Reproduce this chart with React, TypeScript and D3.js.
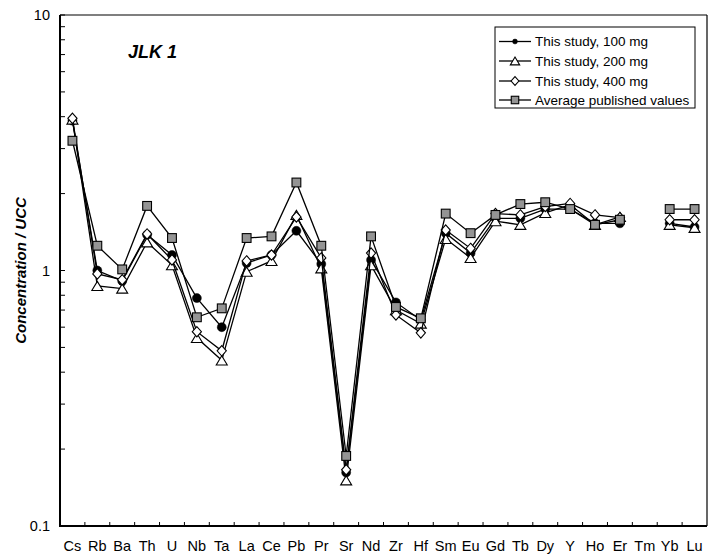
import React from "react";
import * as d3 from "d3";

// Trace-element pattern of JLK 1, normalised to upper continental crust (UCC)
const categories = ["Cs","Rb","Ba","Th","U","Nb","Ta","La","Ce","Pb","Pr","Sr","Nd","Zr","Hf","Sm","Eu","Gd","Tb","Dy","Y","Ho","Er","Tm","Yb","Lu"];

const study100: (number | null)[] = [3.86,1.00,0.91,1.38,1.15,0.78,0.60,1.07,1.15,1.43,1.06,0.162,1.10,0.75,0.64,1.40,1.17,1.60,1.60,1.74,1.74,1.53,1.53,null,1.53,1.48];
const study200: (number | null)[] = [3.90,0.87,0.85,1.29,1.05,0.545,0.445,0.99,1.09,1.65,1.02,0.151,1.05,0.70,0.62,1.33,1.12,1.56,1.51,1.68,1.81,1.51,1.62,null,1.51,1.47];
const study400: (number | null)[] = [3.94,0.97,0.92,1.39,1.10,0.576,0.485,1.09,1.15,1.62,1.12,0.166,1.17,0.67,0.57,1.44,1.22,1.67,1.65,1.78,1.83,1.65,1.61,null,1.58,1.58];
const published: (number | null)[] = [3.22,1.25,1.01,1.79,1.34,0.656,0.711,1.34,1.36,2.21,1.25,0.188,1.36,0.72,0.65,1.67,1.40,1.65,1.82,1.85,1.74,1.51,1.58,null,1.74,1.74];

const seriesNames = ["This study, 100 mg","This study, 200 mg","This study, 400 mg","Average published values"];
const seriesValues = [study100, study200, study400, published];
const seriesMarkers = ["circle","triangle","diamond","square"];

const yTickLabels = [10, 1, 0.1];

const W = 721, H = 560;
const left = 60, right = 707, top = 15, bottom = 526;
const font = "'Liberation Sans', Arial, Helvetica, sans-serif";

function Marker({ kind, x, y, s = 1 }: { kind: string; x: number; y: number; s?: number }) {
  const sw = 1.1;
  if (kind === "circle") return <circle cx={x} cy={y} r={4.5 * s} fill="#000" stroke="#000" strokeWidth={0.5} />;
  if (kind === "square") {
    const h = 4.4 * s;
    return <rect x={x - h} y={y - h} width={2 * h} height={2 * h} fill="#949494" stroke="#000" strokeWidth={sw} />;
  }
  if (kind === "triangle") {
    const w = 5.5 * s, hh = 4.6 * s;
    return <path d={`M${x},${y - hh}L${x + w},${y + hh}L${x - w},${y + hh}Z`} fill="#fff" stroke="#000" strokeWidth={sw} />;
  }
  const w = 4.6 * s, hh = 5.2 * s;
  return <path d={`M${x},${y - hh}L${x + w},${y}L${x},${y + hh}L${x - w},${y}Z`} fill="#fff" stroke="#000" strokeWidth={sw} />;
}

export default function App() {
  const x = d3.scaleBand<string>().domain(categories).range([left, right]);
  const y = d3.scaleLog().domain([0.1, 10]).range([bottom, top]);
  const cx = (c: string) => (x(c) as number) + x.bandwidth() / 2;

  const line = d3
    .line<number | null>()
    .defined((d) => d != null)
    .x((_, i) => cx(categories[i]))
    .y((d) => y(d as number));

  // minor + major log ticks from 0.1 to 10
  const yTicks: number[] = [];
  for (let e = -1; e < 1; e++) for (let m = 1; m < 10; m++) yTicks.push(m * Math.pow(10, e));
  yTicks.push(10);

  const legendRows = [41.5, 61, 81, 100];

  return (
    <svg width={W} height={H} style={{ position: "absolute", left: 0, top: 0, background: "#fff" }} fontFamily={font}>
      <rect x={0} y={0} width={W} height={H} fill="#fff" />

      {/* frame */}
      <line x1={left} x2={right} y1={top} y2={top} stroke="#000" strokeWidth={1.2} />
      <line x1={right} x2={right} y1={top} y2={bottom} stroke="#000" strokeWidth={1.2} />
      <line x1={left} x2={left} y1={top} y2={bottom + 1} stroke="#000" strokeWidth={2} />
      <line x1={left - 1} x2={right} y1={bottom} y2={bottom} stroke="#000" strokeWidth={2} />

      {/* y ticks */}
      {yTicks.map((t) => (
        <line key={t} x1={left} x2={left + 5} y1={y(t)} y2={y(t)} stroke="#000" strokeWidth={1} />
      ))}
      {yTickLabels.map((t) => (
        <text key={t} x={50} y={y(t)} fontSize={14.5} textAnchor="end" dominantBaseline="central">{String(t)}</text>
      ))}

      {/* x ticks at category boundaries */}
      {categories.slice(1).map((c) => (
        <line key={c} x1={x(c) as number} x2={x(c) as number} y1={bottom} y2={bottom - 4} stroke="#000" strokeWidth={1} />
      ))}
      {categories.map((c) => (
        <text key={c} x={cx(c)} y={551} fontSize={14.5} textAnchor="middle">{c}</text>
      ))}

      {/* axis title */}
      <text transform={`translate(26,${(top + bottom) / 2}) rotate(-90)`} fontSize={15} fontWeight="bold" fontStyle="italic" textAnchor="middle">
        Concentration / UCC
      </text>

      {/* sample name */}
      <text x={128} y={58} fontSize={18} fontWeight="bold" fontStyle="italic">JLK 1</text>

      {/* series */}
      {seriesValues.map((vals, si) => (
        <g key={si}>
          <path d={line(vals) || ""} fill="none" stroke="#000" strokeWidth={1.3} />
          {vals.map((v, i) =>
            v == null ? null : <Marker key={i} kind={seriesMarkers[si]} x={cx(categories[i])} y={y(v)} />
          )}
        </g>
      ))}

      {/* legend */}
      <rect x={495} y={27} width={200} height={81} fill="#fff" stroke="#000" strokeWidth={1} />
      {seriesNames.map((n, i) => (
        <g key={n}>
          <line x1={499} x2={531} y1={legendRows[i]} y2={legendRows[i]} stroke="#000" strokeWidth={1.3} />
          <Marker kind={seriesMarkers[i]} x={515} y={legendRows[i]} s={i === 0 ? 0.55 : 0.85} />
          <text x={535} y={legendRows[i]} fontSize={13.5} dominantBaseline="central">{n}</text>
        </g>
      ))}
    </svg>
  );
}
